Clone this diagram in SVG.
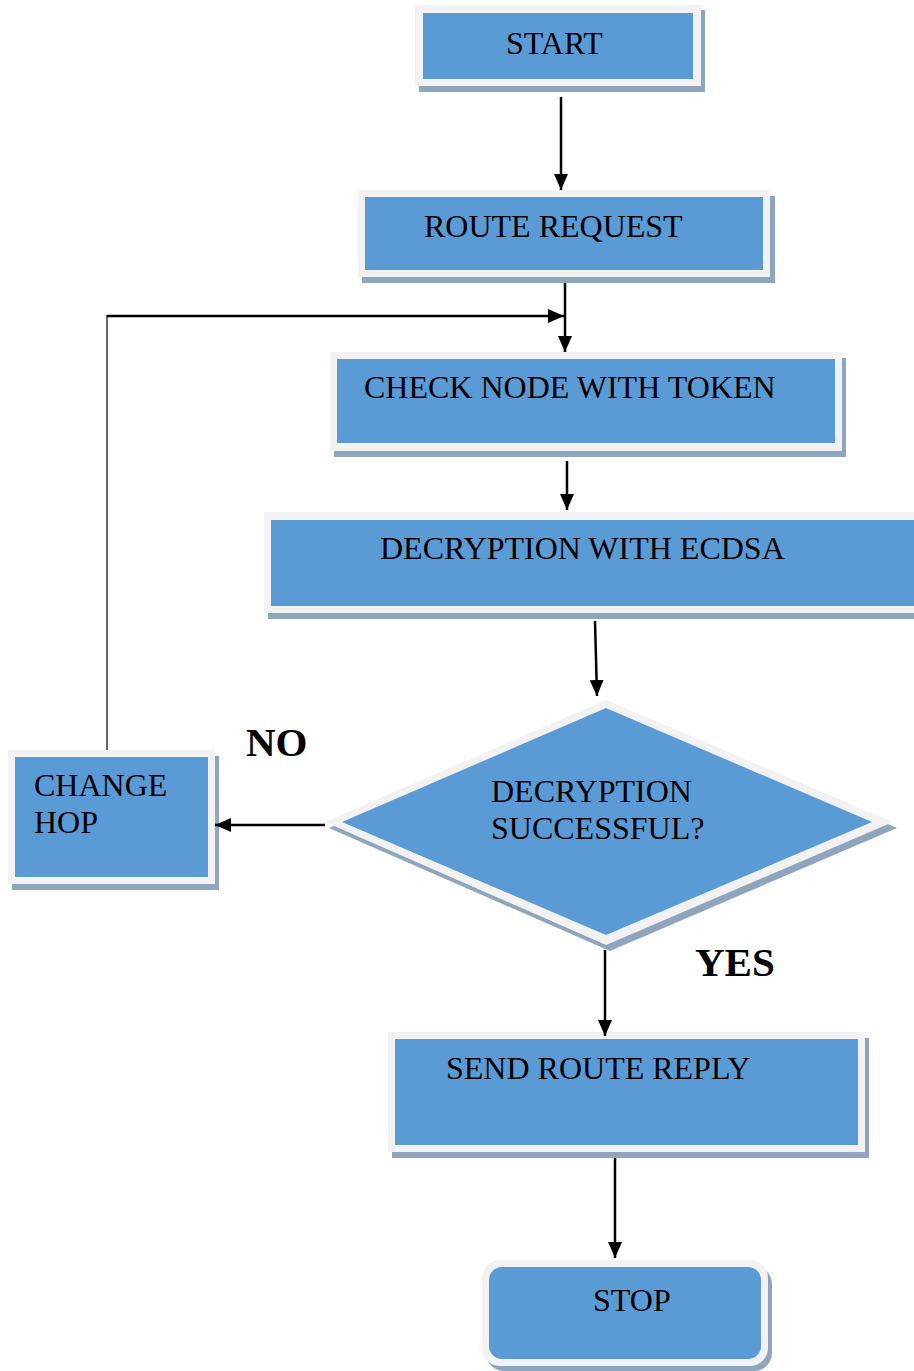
<svg xmlns="http://www.w3.org/2000/svg" width="914" height="1371" viewBox="0 0 914 1371">
  <style>
    .shadow { fill: #8ea5bd; }
    .frame { fill: #f2f2f2; }
    .fill { fill: #5b9bd5; }
    .lbl { font-family: "Liberation Serif", "Times New Roman", serif; font-size: 32px; fill: #000; }
    .tag { font-family: "Liberation Serif", "Times New Roman", serif; font-size: 41px; font-weight: bold; fill: #000; }
    .wire { stroke: #000; stroke-width: 2.5; fill: none; }
  </style>
  <defs>
    <marker id="arrow" markerUnits="userSpaceOnUse" markerWidth="17" markerHeight="14" refX="16" refY="7" orient="auto">
      <path d="M0,0 L16,7 L0,14 Z" fill="#000"/>
    </marker>
  </defs>
  <rect width="914" height="1371" fill="#fff"/>

  <g id="start">
    <rect class="shadow" x="419" y="10" width="286" height="82"/>
    <rect class="frame" x="415" y="5" width="286" height="81"/>
    <rect class="fill" x="423" y="13" width="270" height="66"/>
    <text class="lbl" x="506" y="54">START</text>
  </g>

  <g id="route-request">
    <rect class="shadow" x="362" y="196" width="413" height="87"/>
    <rect class="frame" x="358" y="190" width="412" height="87"/>
    <rect class="fill" x="365" y="197" width="398" height="73"/>
    <text class="lbl" x="424" y="237">ROUTE REQUEST</text>
  </g>

  <g id="check-node">
    <rect class="shadow" x="334" y="358" width="512" height="99"/>
    <rect class="frame" x="330" y="352" width="512" height="99"/>
    <rect class="fill" x="337" y="359" width="498" height="84"/>
    <text class="lbl" x="364" y="398">CHECK NODE WITH TOKEN</text>
  </g>

  <g id="decryption">
    <rect class="shadow" x="268" y="518" width="650" height="101"/>
    <rect class="frame" x="264" y="512" width="660" height="101"/>
    <rect class="fill" x="271" y="520" width="650" height="86"/>
    <text class="lbl" x="380" y="559">DECRYPTION WITH ECDSA</text>
  </g>

  <g id="decision">
    <polygon class="shadow" points="610,706 897,828 610,951 329,828"/>
    <polygon class="frame" points="606,700 893,822 606,945 325,822"/>
    <polygon class="fill" points="606,708 872,822 606,935 342,822"/>
    <text class="lbl" x="491" y="802">DECRYPTION</text>
    <text class="lbl" x="491" y="839">SUCCESSFUL?</text>
  </g>

  <g id="change-hop">
    <rect class="shadow" x="12" y="756" width="207" height="134"/>
    <rect class="frame" x="8" y="750" width="207" height="134"/>
    <rect class="fill" x="15" y="757" width="193" height="120"/>
    <text class="lbl" x="34" y="796">CHANGE</text>
    <text class="lbl" x="34" y="833">HOP</text>
  </g>

  <g id="send-reply">
    <rect class="shadow" x="392" y="1038" width="477" height="120"/>
    <rect class="frame" x="388" y="1032" width="477" height="120"/>
    <rect class="fill" x="395" y="1039" width="463" height="106"/>
    <text class="lbl" x="446" y="1079">SEND ROUTE REPLY</text>
  </g>

  <g id="stop">
    <rect class="shadow" x="486" y="1266" width="286" height="105" rx="18"/>
    <rect class="frame" x="482" y="1260" width="286" height="106" rx="18"/>
    <rect class="fill" x="489" y="1267" width="272" height="92" rx="13"/>
    <text class="lbl" x="593" y="1311">STOP</text>
  </g>

  <g id="labels">
    <text class="tag" x="246" y="756">NO</text>
    <text class="tag" x="695" y="976">YES</text>
  </g>

  <g id="connectors">
    <line class="wire" x1="561" y1="97" x2="561" y2="190" marker-end="url(#arrow)"/>
    <line class="wire" x1="565" y1="283" x2="565" y2="352" marker-end="url(#arrow)"/>
    <line x1="107" y1="750" x2="107" y2="315" stroke="#555" stroke-width="1.8"/>
    <line class="wire" x1="107" y1="316" x2="564" y2="316" marker-end="url(#arrow)"/>
    <line class="wire" x1="567" y1="461" x2="567" y2="510" marker-end="url(#arrow)"/>
    <line class="wire" x1="595" y1="621" x2="597" y2="696" marker-end="url(#arrow)"/>
    <line class="wire" x1="325" y1="825" x2="215" y2="825" marker-end="url(#arrow)"/>
    <line class="wire" x1="605" y1="950" x2="605" y2="1036" marker-end="url(#arrow)"/>
    <line class="wire" x1="615" y1="1158" x2="615" y2="1258" marker-end="url(#arrow)"/>
  </g>
</svg>
